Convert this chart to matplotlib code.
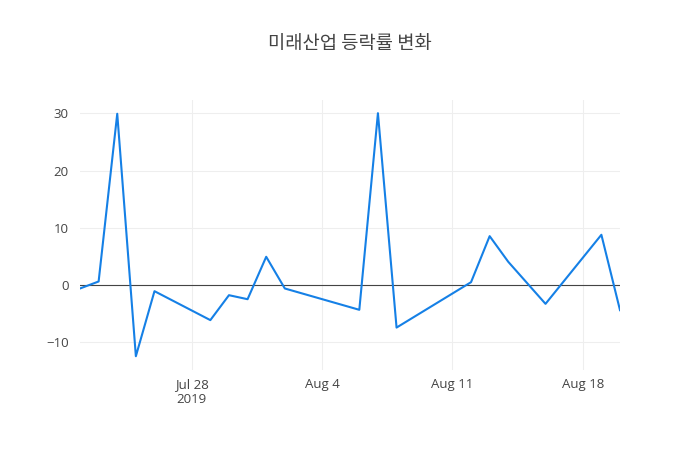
import pandas as pd
import matplotlib
matplotlib.use("Agg")
import matplotlib.pyplot as plt

# data (daily change rate, %)
dates = ["2019-07-22", "2019-07-23", "2019-07-24", "2019-07-25", "2019-07-26",
         "2019-07-29", "2019-07-30", "2019-07-31", "2019-08-01", "2019-08-02",
         "2019-08-06", "2019-08-07", "2019-08-08", "2019-08-12", "2019-08-13",
         "2019-08-14", "2019-08-16", "2019-08-19", "2019-08-20"]
rates = [-0.58, 0.64, 29.9, -12.4, -1.05,
         -6.1, -1.75, -2.45, 4.95, -0.58,
         -4.3, 30.0, -7.4, 0.52, 8.55,
         4.07, -3.26, 8.79, -4.36]
tick_dates = ["2019-07-28", "2019-08-04", "2019-08-11", "2019-08-18"]
tick_labels = ["Jul 28\n2019", "Aug 4", "Aug 11", "Aug 18"]
y_ticks = [-10, 0, 10, 20, 30]

title = "미래산업 등락률 변화"

x = pd.to_datetime(dates)
xt = pd.to_datetime(tick_dates)

plt.rcParams["font.family"] = ["Open Sans", "DejaVu Sans"]

fig = plt.figure(figsize=(7, 4.5), dpi=100)
ax = fig.add_axes([80 / 700, 80 / 450, 540 / 700, 270 / 450])

ax.plot(x, rates, color="#1580e6", linewidth=1.5, zorder=3)
ax.axhline(0, color="#444444", linewidth=0.8, zorder=2)

ax.set_xlim(x[0], x[-1])
ax.set_ylim(-14.8, 32.3)

ax.set_xticks(xt)
ax.set_xticklabels(tick_labels)
ax.set_yticks(y_ticks)
ax.set_yticklabels([f"{v}".replace("-", "\u2212") for v in y_ticks])

ax.grid(True, color="#eeeeee", linewidth=0.75, zorder=0)
ax.set_axisbelow(True)
for s in ax.spines.values():
    s.set_visible(False)
ax.tick_params(length=0, labelsize=9.5, colors="#444444")
ax.tick_params(axis="y", pad=8)
ax.tick_params(axis="x", pad=6)

fig.text(0.5, 1 - 43 / 450, title, ha="center", va="center", fontsize=13.5,
         color="#444444", family=["Noto Sans CJK KR", "DejaVu Sans"])

fig.savefig("out.png", dpi=100)
